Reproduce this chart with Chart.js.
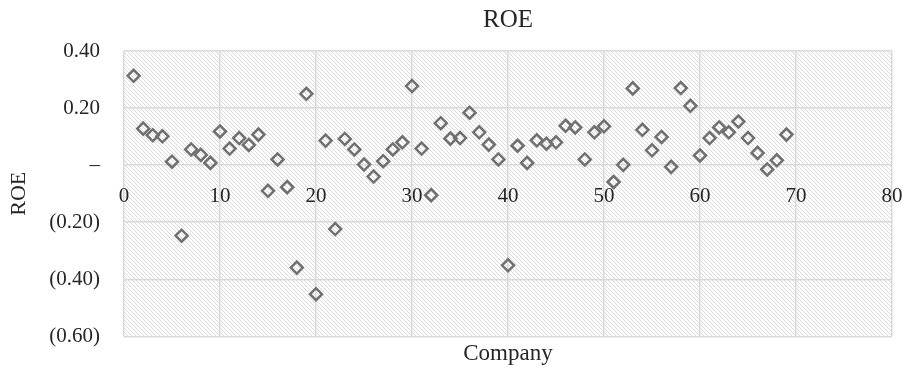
<!DOCTYPE html>
<html>
<head>
<meta charset="utf-8">
<script src="https://cdn.jsdelivr.net/npm/chart.js@4/dist/chart.umd.min.js"></script>
<style>
  html, body { margin: 0; padding: 0; background: #ffffff; }
  #wrap { width: 904px; height: 373px; }
</style>
</head>
<body>
<div id="wrap"><canvas id="roe-chart"></canvas></div>
<script>
// company number (x) and ROE (y)
const companies = [
  1, 2, 3, 4, 5, 6, 7, 8, 9, 10,
  11, 12, 13, 14, 15, 16, 17, 18, 19, 20,
  21, 22, 23, 24, 25, 26, 27, 28, 29, 30,
  31, 32, 33, 34, 35, 36, 37, 38, 39, 40,
  41, 42, 43, 44, 45, 46, 47, 48, 49, 50,
  51, 52, 53, 54, 55, 56, 57, 58, 59, 60,
  61, 62, 63, 64, 65, 66, 67, 68, 69
];
const roe = [
  0.313, 0.128, 0.105, 0.101, 0.012, -0.247, 0.055, 0.036, 0.008, 0.118,
  0.058, 0.095, 0.071, 0.107, -0.090, 0.020, -0.077, -0.359, 0.250, -0.452,
  0.086, -0.224, 0.092, 0.055, 0.002, -0.040, 0.014, 0.055, 0.080, 0.277,
  0.058, -0.105, 0.147, 0.093, 0.095, 0.184, 0.115, 0.072, 0.020, -0.351,
  0.068, 0.008, 0.087, 0.075, 0.080, 0.138, 0.132, 0.020, 0.115, 0.136,
  -0.059, 0.001, 0.269, 0.124, 0.052, 0.099, -0.006, 0.270, 0.208, 0.034,
  0.095, 0.132, 0.115, 0.153, 0.095, 0.043, -0.015, 0.017, 0.107
];
const xTickValues = [0, 10, 20, 30, 40, 50, 60, 70, 80];
const yTickValues = [-0.6, -0.4, -0.2, 0, 0.2, 0.4];
const yTickLabels = ['(0.60)', '(0.40)', '(0.20)', '\u2013', '0.20', '0.40'];

const FONT = 'Liberation Serif, Times New Roman, serif';
const gridColor = '#d9d9d9';
const textColor = '#262626';

// diagonal hatch for the plot area
function makeHatch() {
  const tile = document.createElement('canvas');
  tile.width = 4;
  tile.height = 4;
  const t = tile.getContext('2d');
  t.fillStyle = '#ffffff';
  t.fillRect(0, 0, 4, 4);
  t.strokeStyle = '#dadada';
  t.lineWidth = 1;
  t.beginPath();
  t.moveTo(-1, -1); t.lineTo(5, 5);
  t.moveTo(-1, 3); t.lineTo(1, 5);
  t.moveTo(3, -1); t.lineTo(5, 1);
  t.stroke();
  return tile;
}

const hatchBackground = {
  id: 'hatchBackground',
  beforeDraw(chart) {
    const { ctx, chartArea: a } = chart;
    ctx.save();
    ctx.fillStyle = '#ffffff';
    ctx.fillRect(0, 0, chart.width, chart.height);
    ctx.fillStyle = ctx.createPattern(makeHatch(), 'repeat');
    ctx.fillRect(a.left, a.top, a.right - a.left, a.bottom - a.top);
    ctx.restore();
  }
};

const points = companies.map((c, i) => ({ x: c, y: roe[i] }));

new Chart(document.getElementById('roe-chart'), {
  type: 'scatter',
  data: {
    datasets: [{
      label: 'ROE',
      data: points,
      pointStyle: 'rectRot',
      pointRadius: 6,
      pointHoverRadius: 6,
      borderWidth: 2.5,
      borderColor: '#707070',
      backgroundColor: 'rgba(0,0,0,0)'
    }]
  },
  options: {
    responsive: true,
    maintainAspectRatio: false,
    animation: false,
    events: [],
    layout: { padding: { left: 0, right: 12, top: 0, bottom: 0 } },
    plugins: {
      legend: { display: false },
      tooltip: { enabled: false },
      title: {
        display: true,
        text: 'ROE',
        fullSize: false,
        color: textColor,
        font: { family: FONT, size: 25, weight: 'normal' },
        padding: { top: 5, bottom: 16 }
      },
      subtitle: {
        display: true,
        text: 'Company',
        position: 'bottom',
        fullSize: false,
        color: textColor,
        font: { family: FONT, size: 23, weight: 'normal' },
        padding: { top: 4, bottom: 3 }
      }
    },
    scales: {
      x: {
        type: 'linear',
        position: { y: 0 },
        min: 0,
        max: 80,
        afterBuildTicks: s => { s.ticks = xTickValues.map(v => ({ value: v })); },
        // labels sit on the zero line; keep them from eating into the right margin
        afterFit: s => { s.paddingLeft = 0; s.paddingRight = 0; },
        grid: { color: gridColor, lineWidth: 1.5, drawTicks: false },
        border: { display: false },
        ticks: {
          color: textColor,
          padding: 19,
          maxRotation: 0,
          font: { family: FONT, size: 21 }
        }
      },
      y: {
        type: 'linear',
        min: -0.6,
        max: 0.4,
        afterBuildTicks: s => { s.ticks = yTickValues.map(v => ({ value: v })); },
        afterFit: s => { s.width = 124; },
        grid: { color: gridColor, lineWidth: 1.5, drawTicks: false },
        border: { display: false },
        title: {
          display: true,
          text: 'ROE',
          color: textColor,
          font: { family: FONT, size: 22 },
          padding: { top: 6, bottom: 0 }
        },
        ticks: {
          color: textColor,
          padding: 24,
          font: { family: FONT, size: 21 },
          callback: (v, i) => yTickLabels[i]
        }
      }
    }
  },
  plugins: [hatchBackground]
});
</script>
</body>
</html>
